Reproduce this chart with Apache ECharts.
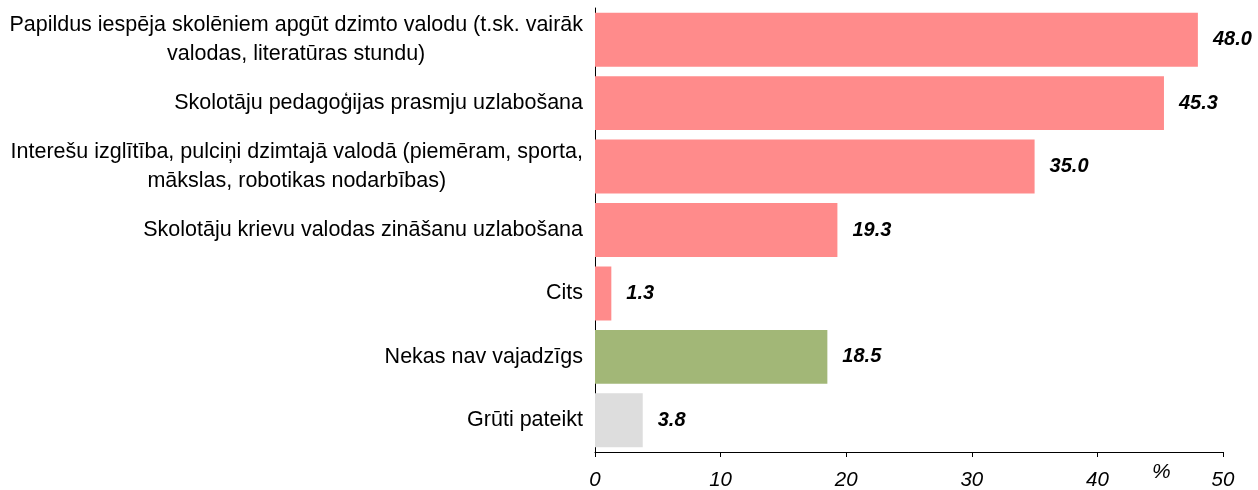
<!DOCTYPE html>
<html>
<head>
<meta charset="utf-8">
<script src="https://cdn.jsdelivr.net/npm/echarts@6/dist/echarts.min.js"></script>
<style>
  html, body { margin: 0; padding: 0; background: #fff; }
  #chart { width: 1258px; height: 490px; }
</style>
</head>
<body>
<div id="chart"></div>
<script>
// kategorijas (no augšas uz leju)
const categories = [
  'Papildus iespēja skolēniem apgūt dzimto valodu (t.sk. vairāk\nvalodas, literatūras stundu)',
  'Skolotāju pedagoģijas prasmju uzlabošana',
  'Interešu izglītība, pulciņi dzimtajā valodā (piemēram, sporta,\nmākslas, robotikas nodarbības)',
  'Skolotāju krievu valodas zināšanu uzlabošana',
  'Cits',
  'Nekas nav vajadzīgs',
  'Grūti pateikt'
];
const values = [48.0, 45.3, 35.0, 19.3, 1.3, 18.5, 3.8];
const barColors = ['#FF8B8B', '#FF8B8B', '#FF8B8B', '#FF8B8B', '#FF8B8B', '#A2B777', '#DDDDDD'];
const xTicks = [0, 10, 20, 30, 40, 50];

const chart = echarts.init(document.getElementById('chart'));

const font = 'Liberation Sans, Arial, sans-serif';

const option = {
  animation: false,
  textStyle: { fontFamily: font },
  grid: { left: 595, right: 35, top: 8, bottom: 36 },
  xAxis: {
    type: 'value',
    min: xTicks[0],
    max: xTicks[xTicks.length - 1],
    interval: 10,
    splitLine: { show: false },
    axisLine: { show: true, lineStyle: { color: '#000', width: 1 } },
    axisTick: { show: true, length: 5, lineStyle: { color: '#000' } },
    axisLabel: {
      color: '#000', fontSize: 20.5, fontStyle: 'italic', margin: 18
    }
  },
  yAxis: {
    type: 'category',
    inverse: true,
    data: categories,
    axisLine: { show: true, lineStyle: { color: '#000', width: 1 } },
    axisTick: { show: false },
    axisLabel: {
      color: '#000',
      fontSize: 21.5,
      margin: 12,
      formatter: v => '{t|' + v.split('\n').join('}\n{t|') + '}',
      rich: { t: { fontSize: 21.5, lineHeight: 29, align: 'center', color: '#000' } }
    }
  },
  series: [{
    type: 'bar',
    data: values.map((v, i) => ({ value: v, itemStyle: { color: barColors[i] } })),
    barCategoryGap: '15%',
    label: {
      show: true,
      position: 'right',
      distance: 15,
      color: '#000',
      fontSize: 20,
      fontWeight: 'bold',
      fontStyle: 'italic',
      formatter: p => p.value.toFixed(1)
    }
  }],
  graphic: [{
    type: 'text',
    left: 1152,
    top: 462,
    style: { text: '%', fontSize: 21, fontStyle: 'italic', fill: '#000', fontFamily: font }
  }]
};

chart.setOption(option);
</script>
</body>
</html>
